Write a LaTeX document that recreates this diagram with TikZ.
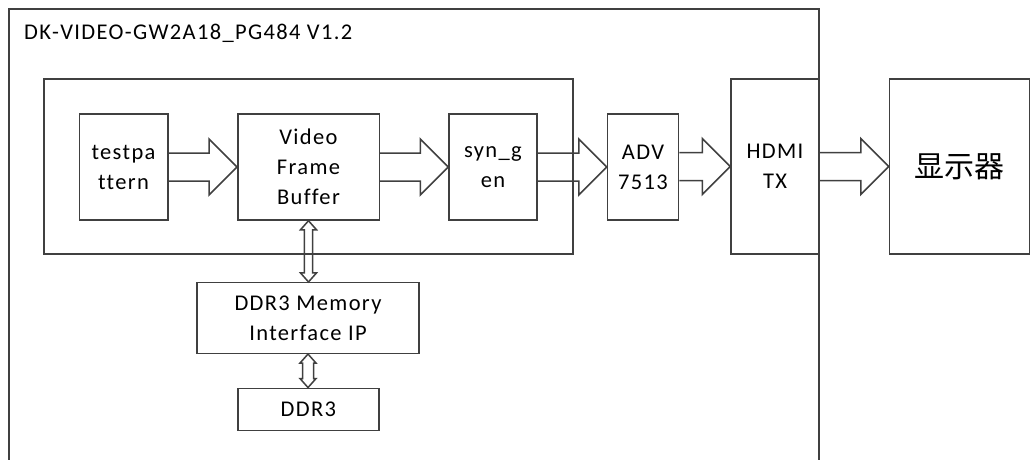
\documentclass[tikz,border=0pt]{standalone}
\usepackage{fontspec}
\setmainfont[LetterSpace=6,Ligatures={NoCommon}]{Carlito}
\newfontfamily\cjk{Noto Sans CJK SC}
\usetikzlibrary{calc}
\tikzset{
  ln/.style={draw=black!75, line width=1.5pt},
  box/.style={ln, rectangle, inner sep=0pt, align=center, font=\fontsize{22.5}{30}\selectfont},
  conn/.style={draw=black!75, line width=1.5pt, line join=miter},
}
\newcommand\blockarrow[2]{\draw[conn] let \p1=(#1.east), \p2=(#2.west) in
  (\x1,\y2+14pt) -- (\x2-28pt,\y2+14pt) -- (\x2-28pt,\y2+28pt) -- (\x2,\y2)
  -- (\x2-28pt,\y2-28pt) -- (\x2-28pt,\y2-14pt) -- (\x1,\y2-14pt);}
\newcommand\vdarrow[3]{\draw[conn] let \p1=(#1.south), \p2=(#2.north) in
  (\x1,\y1) -- (\x1+8pt,\y1-9pt) -- (\x1+#3,\y1-9pt) -- (\x1+#3,\y2+9pt)
  -- (\x1+8pt,\y2+9pt) -- (\x1,\y2) -- (\x1-8pt,\y2+9pt) -- (\x1-#3,\y2+9pt)
  -- (\x1-#3,\y1-9pt) -- (\x1-8pt,\y1-9pt) -- cycle;}
\begin{document}
\begin{tikzpicture}[x=1pt,y=-1pt]
\useasboundingbox (0,0) rectangle (1030,460);
% outer board frame (open at the bottom)
\draw[ln] (9,470) -- (9,9) -- (819,9) -- (819,470);
\node[anchor=west, inner sep=0pt, font=\fontsize{22.5}{26}\selectfont] (title) at (24,33) {DK-VIDEO-GW2A18\_PG484 V1.2};
% inner FPGA box
\draw[ln] (44,79) rectangle (573,254);
% blocks
\node[box, minimum width=88.5pt, minimum height=106pt] (tp) at (123.5,167) {testpa\\ttern};
\node[box, minimum width=141.5pt, minimum height=106pt] (vfb) at (308.5,167) {Video\\Frame\\Buffer};
\node[box, minimum width=88pt, minimum height=106pt] (syn) at (493,167) {syn\_g\\en};
\node[box, minimum width=71pt, minimum height=106pt] (adv) at (643,167) {ADV\\7513};
\node[box, minimum width=88pt, minimum height=175pt] (hdmi) at (775,166.5) {HDMI\\TX};
\node[box, minimum width=140pt, minimum height=175pt, font=\cjk\fontsize{30}{32}\selectfont] (disp) at (959.5,166.5) {显示器};
\node[box, minimum width=222pt, minimum height=70.6pt] (mif) at (308,318) {DDR3 Memory\\Interface IP};
\node[box, minimum width=141.3pt, minimum height=42.4pt] (ddr) at (308.4,409.5) {DDR3};
% block arrows
\blockarrow{tp}{vfb}
\blockarrow{vfb}{syn}
\blockarrow{syn}{adv}
\blockarrow{adv}{hdmi}
\blockarrow{hdmi}{disp}
% vertical double arrows
\vdarrow{vfb}{mif}{4.2pt}
\vdarrow{mif}{ddr}{5.5pt}
\end{tikzpicture}
\end{document}
